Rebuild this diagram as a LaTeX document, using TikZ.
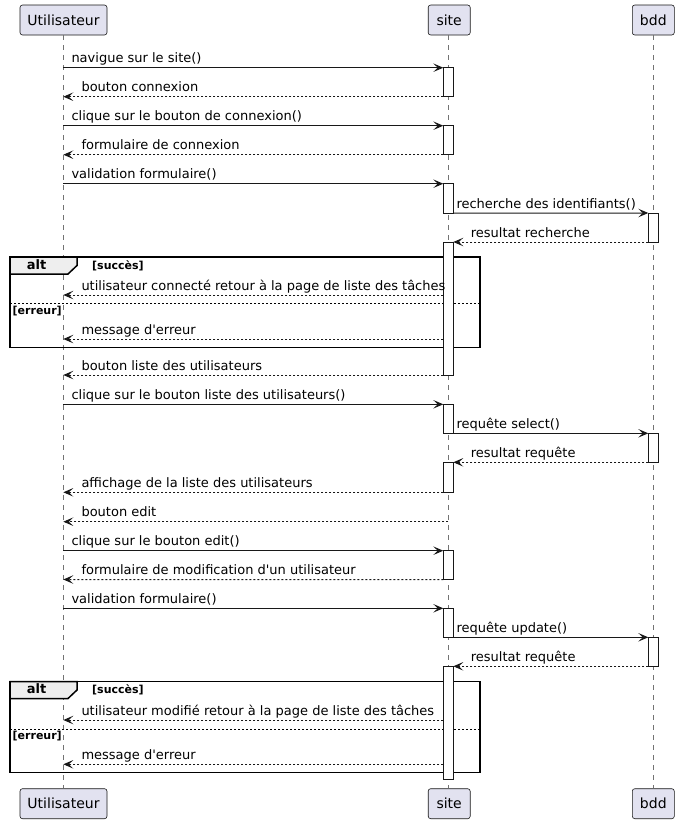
\documentclass[tikz,border=0pt]{standalone}
\usepackage{fontspec}
\setmainfont{DejaVu Sans}[Ligatures=TeXOff]
\usetikzlibrary{arrows.meta}
\definecolor{partfill}{HTML}{E2E2F0}
\definecolor{ink}{HTML}{181818}
\definecolor{tabfill}{HTML}{EEEEEE}
\begin{document}
\begin{tikzpicture}[x=1pt,y=-1pt,
  part/.style={draw=ink,fill=partfill,line width=0.6pt,rounded corners=2.5pt,inner sep=0pt,minimum height=30pt,font=\fontsize{14}{16}\selectfont},
  life/.style={draw=black!55,line width=0.6pt,dash pattern=on 5pt off 5pt},
  act/.style={draw=ink,fill=white,line width=1pt,inner sep=0pt,outer sep=0pt,minimum width=10pt,anchor=north west},
  msg/.style={draw=ink,line width=1pt,-{Stealth[length=10pt,width=8.5pt,inset=4.5pt]}},
  ret/.style={msg,dash pattern=on 2pt off 2pt},
  lbl/.style={anchor=base west,inner sep=0pt,font=\fontsize{13}{15}\selectfont},
  frame/.style={draw=black,line width=1.5pt},
  sep/.style={draw=black,line width=0.8pt,dash pattern=on 2pt off 2pt},
  guard/.style={anchor=base west,inner sep=0pt,font=\fontsize{11}{13}\selectfont\bfseries},
  alttxt/.style={anchor=base,inner sep=0pt,font=\fontsize{13}{15}\selectfont\bfseries},
]
\useasboundingbox (0,0) rectangle (679,823);
% participants
\node[part,minimum width=87pt] (Ut) at (63.5,20) {Utilisateur};
\node[part,minimum width=42pt] (St) at (449.2,20) {site};
\node[part,minimum width=42pt] (Bt) at (653.3,20) {bdd};
\node[part,minimum width=87pt] (Ub) at (63.5,803.7) {Utilisateur};
\node[part,minimum width=42pt] (Sb) at (449.2,803.7) {site};
\node[part,minimum width=42pt] (Bb) at (653.3,803.7) {bdd};
\coordinate (U) at (63.3,0);
\coordinate (S) at (448.3,0);
\coordinate (B) at (653.3,0);
\draw[life] (Ut.south -| U) -- (Ub.north -| U);
\draw[life] (St.south -| S) -- (Sb.north -| S);
\draw[life] (Bt.south -| B) -- (Bb.north -| B);
% rows
\foreach \n/\y in {r1/67.7,r2/96.7,r3/125.7,r4/154.7,r5/183.7,r6/213,r7/242,
  r8/295,r9/339,r10/375,r11/404.3,r12/433.3,r13/462.3,r14/492.3,r15/521.7,
  r16/550.7,r17/579.5,r18/608.3,r19/637.3,r20/666.3,r21/720,r22/764.3,r23/779.3}
  {\coordinate (\n) at (0,\y);}
% alt frames
\coordinate (f1a) at (10,257);
\coordinate (f1b) at (480,347.3);
\coordinate (f2a) at (10,681.5);
\coordinate (f2b) at (480,772.7);
\draw[frame] (f1a) rectangle (f1b);
\draw[frame,fill=tabfill] (f1a) -- ++(67,0) -- ++(0,8.5) -- ++(-9,8.5) -- ++(-58,0) -- cycle;
\node[alttxt] (alt1) at (36.5,269.3) {alt};
\node[guard] (g1) at (92,269.3) {[succès]};
\coordinate (s1a) at (10,303.5);
\draw[sep] (s1a) -- (s1a -| f1b);
\node[guard] (g2) at (12.5,314) {[erreur]};
\draw[frame] (f2a) rectangle (f2b);
\draw[frame,fill=tabfill] (f2a) -- ++(67,0) -- ++(0,8.5) -- ++(-9,8.5) -- ++(-58,0) -- cycle;
\node[alttxt] (alt2) at (36.5,693.8) {alt};
\node[guard] (g3) at (92,693.8) {[succès]};
\coordinate (s2a) at (10,729.3);
\draw[sep] (s2a) -- (s2a -| f2b);
\node[guard] (g4) at (12.5,739.8) {[erreur]};
% activations
\node[act,minimum height=29pt] (a1) at (443.3,67.7) {};
\node[act,minimum height=29pt] (a2) at (443.3,125.7) {};
\node[act,minimum height=29.3pt] (a3) at (443.3,183.7) {};
\node[act,minimum height=29pt] (b1) at (648.3,213) {};
\node[act,minimum height=133pt] (a4) at (443.3,242) {};
\node[act,minimum height=29pt] (a5) at (443.3,404.3) {};
\node[act,minimum height=29pt] (b2) at (648.3,433.3) {};
\node[act,minimum height=30pt] (a6) at (443.3,462.3) {};
\node[act,minimum height=28.8pt] (a7) at (443.3,550.7) {};
\node[act,minimum height=29pt] (a8) at (443.3,608.3) {};
\node[act,minimum height=29pt] (b3) at (648.3,637.3) {};
\node[act,minimum height=113pt] (a9) at (443.3,666.3) {};
% messages
\draw[msg] (U |- r1) -- (a1.north west);
\node[lbl] at ([xshift=8pt,yshift=5pt]U |- r1) {navigue sur le site()};
\draw[ret] (a1.south west) -- (U |- r2);
\node[lbl] at ([xshift=18pt,yshift=5pt]U |- r2) {bouton connexion};
\draw[msg] (U |- r3) -- (a2.north west);
\node[lbl] at ([xshift=8pt,yshift=5pt]U |- r3) {clique sur le bouton de connexion()};
\draw[ret] (a2.south west) -- (U |- r4);
\node[lbl] at ([xshift=18pt,yshift=5pt]U |- r4) {formulaire de connexion};
\draw[msg] (U |- r5) -- (a3.north west);
\node[lbl] at ([xshift=8pt,yshift=5pt]U |- r5) {validation formulaire()};
\draw[msg] (a3.south east) -- (b1.north west);
\node[lbl] at ([xshift=3pt,yshift=5pt]a3.south east) {recherche des identifiants()};
\draw[ret] (b1.south west) -- (a4.north east);
\node[lbl] at ([xshift=17.4pt,yshift=5pt]a4.north east) {resultat recherche};
\draw[ret] (a4.west |- r8) -- (U |- r8);
\node[lbl] at ([xshift=18pt,yshift=5pt]U |- r8) {utilisateur connecté retour à la page de liste des tâches};
\draw[ret] (a4.west |- r9) -- (U |- r9);
\node[lbl] at ([xshift=18pt,yshift=5pt]U |- r9) {message d'erreur};
\draw[ret] (a4.south west) -- (U |- r10);
\node[lbl] at ([xshift=18pt,yshift=5pt]U |- r10) {bouton liste des utilisateurs};
\draw[msg] (U |- r11) -- (a5.north west);
\node[lbl] at ([xshift=8pt,yshift=5pt]U |- r11) {clique sur le bouton liste des utilisateurs()};
\draw[msg] (a5.south east) -- (b2.north west);
\node[lbl] at ([xshift=3pt,yshift=5pt]a5.south east) {requête select()};
\draw[ret] (b2.south west) -- (a6.north east);
\node[lbl] at ([xshift=17.4pt,yshift=5pt]a6.north east) {resultat requête};
\draw[ret] (a6.south west) -- (U |- r14);
\node[lbl] at ([xshift=18pt,yshift=5pt]U |- r14) {affichage de la liste des utilisateurs};
\draw[ret] (S |- r15) -- (U |- r15);
\node[lbl] at ([xshift=18pt,yshift=5pt]U |- r15) {bouton edit};
\draw[msg] (U |- r16) -- (a7.north west);
\node[lbl] at ([xshift=8pt,yshift=5pt]U |- r16) {clique sur le bouton edit()};
\draw[ret] (a7.south west) -- (U |- r17);
\node[lbl] at ([xshift=18pt,yshift=5pt]U |- r17) {formulaire de modification d'un utilisateur};
\draw[msg] (U |- r18) -- (a8.north west);
\node[lbl] at ([xshift=8pt,yshift=5pt]U |- r18) {validation formulaire()};
\draw[msg] (a8.south east) -- (b3.north west);
\node[lbl] at ([xshift=3pt,yshift=5pt]a8.south east) {requête update()};
\draw[ret] (b3.south west) -- (a9.north east);
\node[lbl] at ([xshift=17.4pt,yshift=5pt]a9.north east) {resultat requête};
\draw[ret] (a9.west |- r21) -- (U |- r21);
\node[lbl] at ([xshift=18pt,yshift=5pt]U |- r21) {utilisateur modifié retour à la page de liste des tâches};
\draw[ret] (a9.west |- r22) -- (U |- r22);
\node[lbl] at ([xshift=18pt,yshift=5pt]U |- r22) {message d'erreur};
\end{tikzpicture}
\end{document}
